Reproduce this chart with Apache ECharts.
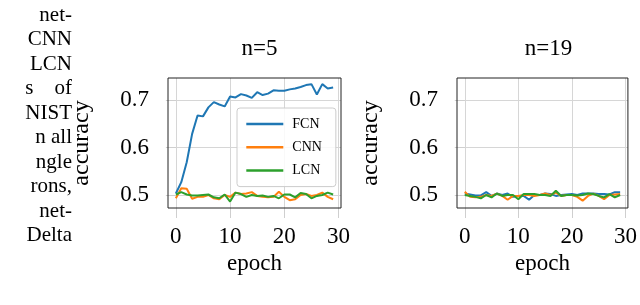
<!DOCTYPE html>
<html>
<head>
<meta charset="utf-8">
<script src="https://cdn.jsdelivr.net/npm/echarts@6/dist/echarts.min.js"></script>
<style>
html,body{margin:0;padding:0;background:#fff;}
#chart{width:640px;height:305px;}
</style>
</head>
<body>
<div id="chart"></div>
<script>
var epochs = [0,1,2,3,4,5,6,7,8,9,10,11,12,13,14,15,16,17,18,19,20,21,22,23,24,25,26,27,28,29];
var xTicks = [0,10,20,30];
var yTicks = [0.5,0.6,0.7];
var panelTitles = ['n=5','n=19'];
var seriesNames = ['FCN','CNN','LCN'];

var fcn5 = [0.503,0.527,0.569,0.629,0.668,0.666,0.685,0.696,0.691,0.687,0.708,0.706,0.713,0.710,0.705,0.717,0.711,0.714,0.721,0.720,0.720,0.723,0.725,0.728,0.732,0.734,0.712,0.734,0.725,0.727];
var cnn5 = [0.493,0.514,0.513,0.492,0.496,0.496,0.500,0.493,0.491,0.500,0.496,0.505,0.502,0.503,0.506,0.498,0.496,0.495,0.496,0.507,0.496,0.489,0.491,0.500,0.502,0.498,0.500,0.505,0.496,0.491];
var lcn5 = [0.501,0.506,0.501,0.499,0.499,0.500,0.501,0.495,0.493,0.501,0.486,0.505,0.502,0.496,0.500,0.498,0.499,0.496,0.498,0.493,0.501,0.501,0.495,0.504,0.502,0.493,0.498,0.500,0.505,0.501];

var fcn19 = [0.503,0.501,0.499,0.499,0.506,0.498,0.503,0.500,0.503,0.496,0.498,0.498,0.490,0.500,0.500,0.503,0.502,0.498,0.500,0.501,0.502,0.500,0.503,0.503,0.503,0.502,0.502,0.501,0.506,0.506];
var cnn19 = [0.507,0.496,0.495,0.496,0.500,0.498,0.503,0.498,0.490,0.498,0.498,0.500,0.500,0.498,0.500,0.503,0.500,0.505,0.498,0.500,0.500,0.496,0.488,0.498,0.503,0.498,0.491,0.500,0.501,0.502];
var lcn19 = [0.500,0.498,0.496,0.493,0.500,0.495,0.503,0.498,0.500,0.500,0.491,0.502,0.502,0.502,0.500,0.500,0.498,0.509,0.498,0.500,0.500,0.499,0.500,0.503,0.502,0.498,0.495,0.502,0.495,0.500];

var sideText = ['net-','CNN','LCN','s    of','NIST','n all','ngle','rons,','net-','Delta'];

var colors = ['#1f77b4','#ff7f0e','#2ca02c'];
var FONT = 'Liberation Serif';

function pairs(vals){ return epochs.map(function(e,i){ return [e, vals[i]]; }); }

var panels = [[fcn5,cnn5,lcn5],[fcn19,cnn19,lcn19]];
var gridLeft = [168, 457];

var grids = [], xAxes = [], yAxes = [], series = [], titles = [];
panels.forEach(function(p, gi){
  grids.push({left: gridLeft[gi], top: 78, width: 173, height: 130, show: true,
    borderColor: '#222', borderWidth: 1, backgroundColor: 'transparent', z: 3});
  xAxes.push({type: 'value', gridIndex: gi, min: -1.45, max: 30.45,
    name: 'epoch', nameLocation: 'middle', nameGap: 44,
    nameTextStyle: {fontFamily: FONT, fontSize: 23, color: '#000'},
    axisLine: {show: false},
    axisTick: {show: true, length: 10, lineStyle: {color: '#cfcfcf'}, customValues: xTicks},
    axisLabel: {fontFamily: FONT, fontSize: 23, color: '#000', margin: 17, customValues: xTicks},
    splitLine: {show: true, lineStyle: {color: '#d6d6d6', width: 1}}
  });
  yAxes.push({type: 'value', gridIndex: gi, min: 0.4725, max: 0.747,
    name: 'accuracy', nameLocation: 'middle', nameGap: 74,
    nameTextStyle: {fontFamily: FONT, fontSize: 24, color: '#000'},
    axisLine: {show: false},
    axisTick: {show: true, length: 10, lineStyle: {color: '#cfcfcf'}, customValues: yTicks},
    axisLabel: {fontFamily: FONT, fontSize: 23, color: '#000', margin: 19, customValues: yTicks,
      formatter: function(v){ return v.toFixed(1); }},
    splitLine: {show: true, lineStyle: {color: '#d6d6d6', width: 1}}
  });
  titles.push({text: panelTitles[gi], left: gridLeft[gi] + 86.5, top: 32, textAlign: 'center',
    textStyle: {fontFamily: FONT, fontSize: 23, fontWeight: 'normal', color: '#000'}});
  p.forEach(function(vals, si){
    series.push({name: seriesNames[si], type: 'line', xAxisIndex: gi, yAxisIndex: gi,
      data: pairs(vals), showSymbol: false, symbol: 'none', clip: true,
      lineStyle: {color: colors[si], width: 2}, itemStyle: {color: colors[si]},
      animation: false, z: 2});
  });
});

var graphics = sideText.map(function(t, i){
  return {type: 'text', right: 640 - 72, top: 16.7 + 24.5*i - 12,
    style: {text: t, font: '21px "Liberation Serif"', fill: '#000', textAlign: 'right'}};
});

var chart = echarts.init(document.getElementById('chart'), null, {renderer: 'canvas'});
chart.setOption({
  animation: false,
  title: titles,
  grid: grids,
  xAxis: xAxes,
  yAxis: yAxes,
  legend: {data: seriesNames, orient: 'vertical', left: 237, top: 108,
    icon: 'rect', itemWidth: 37, itemHeight: 2.5, itemGap: 9.3,
    padding: [9, 14, 9, 9.3],
    backgroundColor: 'rgba(255,255,255,0.85)', borderColor: '#cccccc', borderWidth: 1, borderRadius: 3,
    textStyle: {fontFamily: FONT, fontSize: 14, color: '#000', lineHeight: 14, padding: [0,0,0,4]}
  },
  series: series,
  graphic: graphics
});
</script>
</body>
</html>
